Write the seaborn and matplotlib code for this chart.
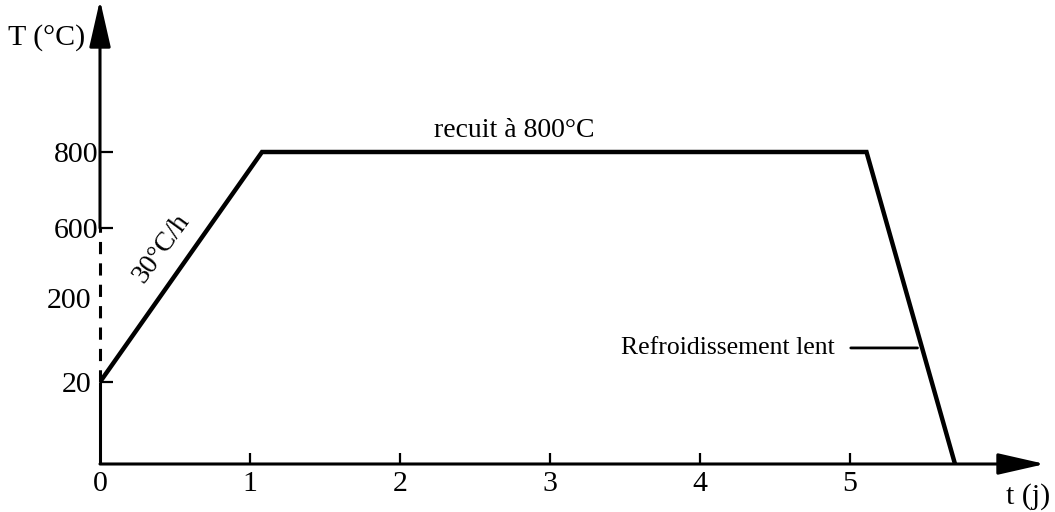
import numpy as np
import pandas as pd
import matplotlib
matplotlib.use("Agg")
import matplotlib.pyplot as plt
import seaborn as sns

# Thermal cycle: heating ramp, anneal plateau, slow cooling
time_days = [0.0, 1.08, 5.11, 5.70]
temperature_c = [20, 800, 800, 0]

x_ticks = [0, 1, 2, 3, 4, 5]
y_ticks = [20, 200, 600, 800]
y_tick_labels = ["20", "200", "600", "800"]

# Broken (schematic) temperature axis: piecewise-linear scale knots
scale_temp = [0, 20, 200, 600, 800, 1400]
scale_pos = [0, 82, 166, 236, 312, 540]


def fwd(v):
    return np.interp(v, scale_temp, scale_pos)


def inv(p):
    return np.interp(p, scale_pos, scale_temp)


sns.set_theme(style="white")
plt.rcParams["font.family"] = ["Liberation Serif", "DejaVu Serif"]
plt.rcParams["text.color"] = "black"
plt.rcParams["xtick.color"] = "black"
plt.rcParams["ytick.color"] = "black"

W, H = 1055, 512
fig = plt.figure(figsize=(W / 100, H / 100), dpi=100)
ax = fig.add_axes([100 / W, 48 / H, 945 / W, 464 / H])

df = pd.DataFrame({"t": time_days, "T": temperature_c})
sns.lineplot(data=df, x="t", y="T", ax=ax, color="black", linewidth=3.2,
             sort=False, estimator=None, legend=False)
ax.lines[0].set_solid_joinstyle("miter")

ax.set_yscale("function", functions=(fwd, inv))
ax.set_xlim(0, 945 / 150)
ax.set_ylim(0, inv(464))

for s in ax.spines.values():
    s.set_visible(False)

ax.set_xlabel("")
ax.set_ylabel("")
ax.set_xticks(x_ticks)
ax.set_xticklabels([str(v) for v in x_ticks])
ax.set_yticks(y_ticks)
ax.set_yticklabels(y_tick_labels)
ax.minorticks_off()
ax.tick_params(axis="x", bottom=True, direction="in", length=8, width=1.6,
               pad=5, labelsize=21.5, colors="black")
ax.tick_params(axis="y", left=True, direction="in", length=9, width=1.6,
               pad=1, labelsize=21.5, colors="black")
ax.xaxis.get_major_ticks()[0].tick1line.set_visible(False)
ymajor = ax.yaxis.get_major_ticks()
ymajor[1].tick1line.set_visible(False)
ymajor[0].set_pad(6)
ymajor[1].set_pad(6)

arrow = dict(arrowstyle="-|>,head_length=1.45,head_width=0.33",
             mutation_scale=20, lw=2.2, color="black",
             shrinkA=0, shrinkB=0)

# Time axis with arrow
ax.annotate("", xy=(1, 0), xycoords="axes fraction",
            xytext=(0, 0), textcoords="axes fraction",
            arrowprops=arrow, annotation_clip=False)

# Temperature axis: solid, dashed break, solid with arrow
ax.plot([0, 0], [0, 20], color="black", lw=2.2, clip_on=False,
        solid_capstyle="butt")
ax.plot([0, 0], [20, 600], color="black", lw=2.2, clip_on=False,
        linestyle=(0, (4, 3)))
ax.annotate("", xy=(0, 1), xycoords=("data", "axes fraction"),
            xytext=(0, 600), textcoords="data",
            arrowprops=arrow, annotation_clip=False)

fig.text(85 / W, 1 - 38 / H, "T (°C)", ha="right", va="center",
         fontsize=21.5)
fig.text(1028 / W, 1 - 497 / H, "t (j)", ha="center", va="center",
         fontsize=21.5)

ax.annotate("recuit à 800°C", xy=(2.76, 800), xytext=(0, 11),
            textcoords="offset points", ha="center", va="baseline",
            fontsize=20)

ax.text(0.41, 486, "30°C/h", rotation=54, rotation_mode="anchor",
        ha="center", va="center", fontsize=20)

ax.annotate("Refroidissement lent", xy=(5.45, 93), xytext=(4.9, 93),
            textcoords="data", ha="right", va="center", fontsize=18.5,
            arrowprops=dict(arrowstyle="-", lw=2, color="black",
                            shrinkA=9, shrinkB=0))

fig.savefig("out.png", dpi=100, facecolor="white")
